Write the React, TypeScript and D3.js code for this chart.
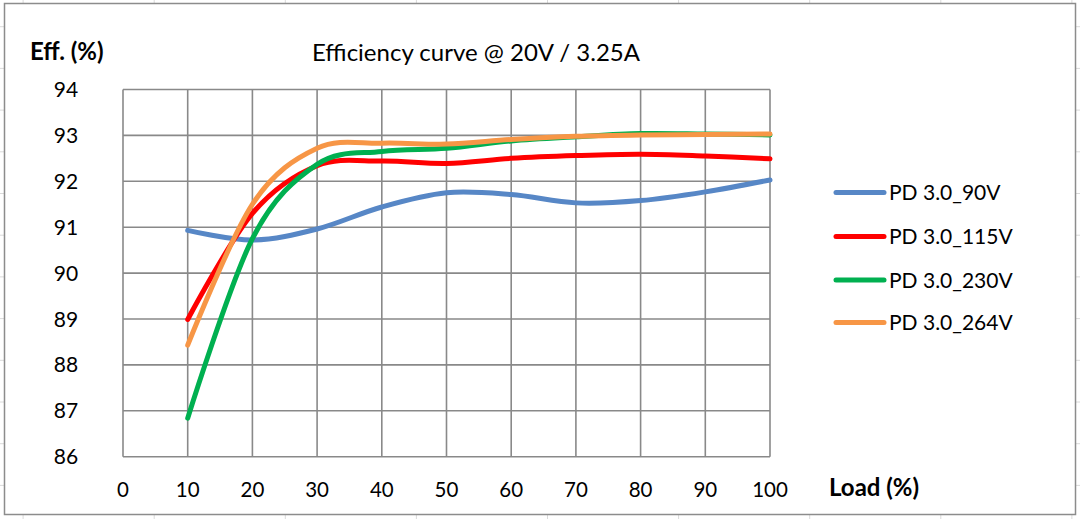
import { scaleLinear, line, curveCardinal, range } from "d3";

const loads = [10, 20, 30, 40, 50, 60, 70, 80, 90, 100];
const eff90 = [90.93, 90.72, 90.96, 91.44, 91.75, 91.71, 91.53, 91.58, 91.77, 92.03];
const eff115 = [88.99, 91.3, 92.34, 92.44, 92.39, 92.5, 92.56, 92.59, 92.55, 92.49];
const eff230 = [86.84, 90.75, 92.37, 92.65, 92.72, 92.88, 92.97, 93.04, 93.03, 93.01];
const eff264 = [88.43, 91.5, 92.72, 92.83, 92.81, 92.91, 92.98, 93.01, 93.02, 93.03];

const seriesNames = ["PD 3.0_90V", "PD 3.0_115V", "PD 3.0_230V", "PD 3.0_264V"];
const seriesValues = [eff90, eff115, eff230, eff264];
const colors = ["#5787C6", "#FF0000", "#00B050", "#F79646"];

const xTicks = [0, 10, 20, 30, 40, 50, 60, 70, 80, 90, 100];
const yTicks = [86, 87, 88, 89, 90, 91, 92, 93, 94];

const width = 1080;
const height = 519;
// plot area in pixels
const plot = { left: 123, right: 770, top: 89.5, bottom: 456.7 };

const font = "Lato, 'Open Sans', sans-serif";

export default function App() {
  const x = scaleLinear().domain([0, 100]).range([plot.left, plot.right]);
  const y = scaleLinear().domain([86, 94]).range([plot.bottom, plot.top]);

  const path = line<number>()
    .x((_, i) => x(loads[i]))
    .y((d) => y(d))
    .curve(curveCardinal.tension(0));

  // faint spreadsheet cells behind the chart frame
  const cellCols = range(-108, width + 131, 131.1);
  const cellRows = range(-15, height + 42, 41.7);

  return (
    <svg
      width={width}
      height={height}
      style={{ position: "absolute", left: 0, top: 0, background: "#fff" }}
    >
      {cellCols.map((cx, i) => (
        <line key={"c" + i} x1={cx} x2={cx} y1={0} y2={height} stroke="#dadada" strokeWidth={1} />
      ))}
      {cellRows.map((cy, i) => (
        <line key={"r" + i} x1={0} x2={width} y1={cy} y2={cy} stroke="#dadada" strokeWidth={1} />
      ))}
      <rect x={4.5} y={3.5} width={1071} height={511} fill="#fff" stroke="#8c8c8c" strokeWidth={1.5} />

      {/* grid */}
      {yTicks.map((t) => (
        <line key={"gy" + t} x1={plot.left} x2={plot.right} y1={y(t)} y2={y(t)} stroke="#898989" strokeWidth={1.6} />
      ))}
      {xTicks.map((t) => (
        <line key={"gx" + t} x1={x(t)} x2={x(t)} y1={plot.top} y2={plot.bottom} stroke="#898989" strokeWidth={1.6} />
      ))}

      {/* tick labels */}
      {yTicks.map((t) => (
        <text key={"ty" + t} x={66} y={y(t) + 7.5} fontFamily={font} fontSize={21} textAnchor="middle" fill="#000">
          {t}
        </text>
      ))}
      {xTicks.map((t) => (
        <text key={"tx" + t} x={x(t)} y={497} fontFamily={font} fontSize={20.5} textAnchor="middle" fill="#000">
          {t}
        </text>
      ))}

      {/* series */}
      {seriesValues.map((vals, i) => (
        <path
          key={seriesNames[i]}
          d={path(vals) ?? ""}
          fill="none"
          stroke={colors[i]}
          strokeWidth={5}
          strokeLinecap="round"
          strokeLinejoin="round"
        />
      ))}

      {/* titles */}
      <text x={476} y={61} fontFamily={font} fontSize={24} textAnchor="middle" fill="#000">
        Efficiency curve @ 20V / 3.25A
      </text>
      <text x={30} y={60} fontFamily={font} fontSize={24} fontWeight="bold" fill="#000">
        Eff. (%)
      </text>
      <text x={829} y={496} fontFamily={font} fontSize={24} fontWeight="bold" fill="#000">
        Load (%)
      </text>

      {/* legend */}
      {seriesNames.map((name, i) => {
        const ly = [192.5, 236.5, 280, 322.5][i];
        return (
          <g key={"lg" + name}>
            <line x1={836} x2={884} y1={ly} y2={ly} stroke={colors[i]} strokeWidth={5} strokeLinecap="round" />
            <text x={889} y={ly + 7.5} fontFamily={font} fontSize={21} fill="#000">
              {name}
            </text>
          </g>
        );
      })}
    </svg>
  );
}
